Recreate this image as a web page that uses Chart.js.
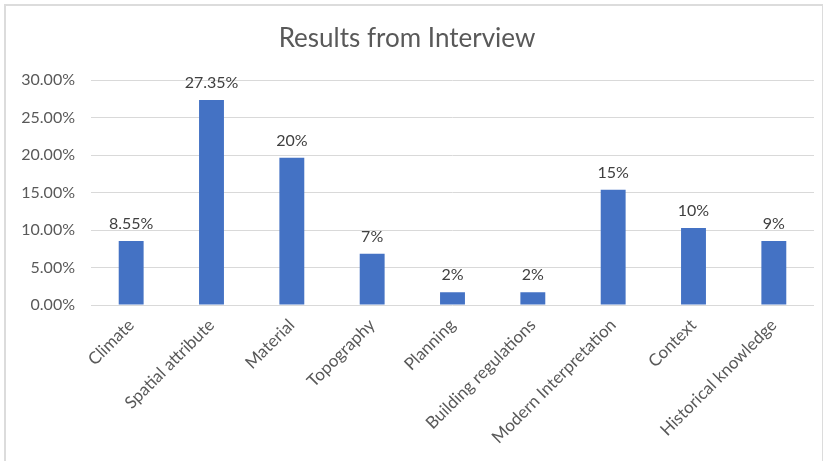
<!DOCTYPE html>
<html>
<head>
<meta charset="utf-8">
<script src="https://cdn.jsdelivr.net/npm/chart.js@4"></script>
<style>
  body { margin: 0; background: #fff; }
  #wrap { position: relative; width: 823px; height: 461px; }
  #frame { position: absolute; left: 4px; top: 4px; width: 816px; height: 470px; border: 2px solid #dcdcdc; pointer-events: none; }
</style>
</head>
<body>
<div id="wrap">
  <canvas id="myChart" width="823" height="461"></canvas>
  <div id="frame"></div>
</div>
<script>
// categories and values
const categories = ["Climate", "Spatial attribute", "Material", "Topography", "Planning",
  "Building regulations", "Modern Interpretation", "Context", "Historical knowledge"];
const shares = [0.0855, 0.2735, 0.1966, 0.0684, 0.0171, 0.0171, 0.1538, 0.1026, 0.0855];
const valueLabels = ["8.55%", "27.35%", "20%", "7%", "2%", "2%", "15%", "10%", "9%"];

const fontName = "Lato, 'Liberation Sans', sans-serif";

// draws the value above each bar
const barLabels = {
  id: "barLabels",
  afterDatasetsDraw(chart) {
    const ctx = chart.ctx;
    const meta = chart.getDatasetMeta(0);
    ctx.save();
    ctx.fillStyle = "#404040";
    ctx.font = "16px " + fontName;
    ctx.textAlign = "center";
    ctx.textBaseline = "bottom";
    meta.data.forEach((bar, i) => {
      ctx.fillText(valueLabels[i], bar.x, bar.y - 9);
    });
    ctx.restore();
  }
};

const data = {
  labels: categories,
  datasets: [
    {
      data: shares,
      backgroundColor: "#4472C4",
      borderWidth: 0,
      categoryPercentage: 1,
      barPercentage: 0.31,
    },
  ],
};

const config = {
  type: "bar",
  data: data,
  plugins: [barLabels],
  options: {
    responsive: false,
    animation: false,
    layout: { padding: { left: 0, right: 9, top: 0, bottom: 6 } },
    plugins: {
      legend: { display: false },
      tooltip: { enabled: false },
      title: {
        display: true,
        text: "Results from Interview",
        color: "#595959",
        font: { family: fontName, size: 26, weight: "normal" },
        padding: { top: 23, bottom: 26 },
      },
    },
    scales: {
      x: {
        grid: { display: false },
        border: { display: false },
        ticks: {
          color: "#595959",
          font: { family: fontName, size: 17 },
          minRotation: 45,
          maxRotation: 45,
          padding: 2,
        },
        afterFit(scale) { scale.height = 150; },
      },
      y: {
        min: 0,
        max: 0.3,
        border: { display: false },
        grid: { color: "#d9d9d9", lineWidth: 1, drawTicks: false },
        ticks: {
          stepSize: 0.05,
          color: "#595959",
          font: { family: fontName, size: 16 },
          padding: 16,
          callback: (v) => (v * 100).toFixed(2) + "%",
        },
        afterFit(scale) { scale.width = 91; },
      },
    },
  },
};

const myChart = new Chart(document.getElementById("myChart"), config);
</script>
</body>
</html>
